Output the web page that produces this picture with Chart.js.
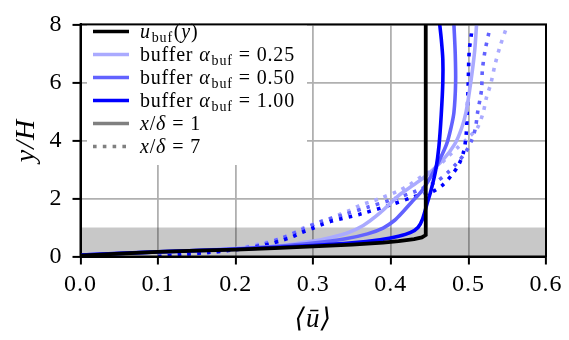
<!DOCTYPE html>
<html><head><meta charset="utf-8">
<script src="https://cdn.jsdelivr.net/npm/chart.js@4"></script>
<style>html,body{margin:0;padding:0;background:#fff}canvas{display:block}</style>
</head><body>
<div style="width:569px;height:340px"><canvas id="c" width="569" height="340"></canvas></div>
<script>
// ---- data ----
const xTickValues = [0, 0.1, 0.2, 0.3, 0.4, 0.5, 0.6];
const yTickValues = [0, 2, 4, 6, 8];
const alphas = [0.25, 0.50, 1.00];
const positions = [1, 7];
const bandTop = 1;

const bufU = [0.000,0.050,0.100,0.150,0.200,0.250,0.300,0.350,0.390,0.410,0.430,0.440,0.445,0.445];
const bufY = [0.03, 0.10, 0.16, 0.20, 0.24, 0.29, 0.35, 0.41, 0.48, 0.53, 0.60, 0.66, 0.74, 8.00];

// x/delta = 1
const a025x1U = [0.000,0.100,0.200,0.257,0.300,0.320,0.343,0.3645,0.386,0.410,0.430,0.446,0.4675,0.4826,0.4912,0.4968,0.503,0.508,0.5105];
const a025x1Y = [0.05, 0.16, 0.27, 0.37, 0.53, 0.64, 0.80, 1.07,  1.50, 2.10, 2.48, 2.80, 3.34,  3.88,  4.42,  4.96,  6.00, 7.07, 8.00];
const a050x1U = [0.000,0.100,0.200,0.250,0.300,0.340,0.370,0.390,0.405,0.416,0.427,0.440,0.4525,0.463,0.472,0.4774,0.4813,0.4835,0.483,0.4813];
const a050x1Y = [0.05, 0.16, 0.26, 0.34, 0.46, 0.60, 0.78, 0.98, 1.25, 1.55, 1.88, 2.26, 2.80,  3.34, 3.88, 4.42,  4.96,  6.00,  7.00, 8.00];
const a100x1U = [0.000,0.100,0.200,0.300,0.350,0.386,0.410,0.425,0.435,0.441,0.447,0.452,0.458,0.462,0.465,0.467,0.467,0.465,0.463];
const a100x1Y = [0.05, 0.16, 0.25, 0.38, 0.47, 0.58, 0.70, 0.82, 1.00, 1.30, 1.85, 2.30, 3.00, 3.80, 4.90, 6.00, 6.80, 7.50, 8.00];

// x/delta = 7
const a025x7U = [0.100,0.140,0.180,0.210,0.235,0.259,0.270,0.283,0.2957,0.3086,0.3215,0.334,0.347,0.360,0.373,0.386,0.4096,0.4246,0.4418,0.459,0.476,0.4868,0.500,0.5113,0.519,0.5234,0.5286,0.534,0.5406,0.549];
const a025x7Y = [0.00, 0.09, 0.20, 0.32, 0.46, 0.64, 0.75, 0.93, 1.07,  1.20,  1.31,  1.45, 1.59, 1.76, 1.88, 2.00, 2.26,  2.48,  2.80,  3.07, 3.50, 3.77,  4.10, 4.42,  4.96, 5.50,  5.93,  6.58, 7.23,  7.88];
const a050x7U = [0.100,0.140,0.180,0.210,0.235,0.260,0.285,0.310,0.340,0.370,0.400,0.4333,0.459,0.474,0.4839,0.4955,0.504,0.509,0.5118,0.5148,0.517,0.518,0.5213,0.5268];
const a050x7Y = [0.00, 0.08, 0.18, 0.29, 0.42, 0.64, 0.92, 1.20, 1.45, 1.70, 1.95, 2.26,  2.59, 2.91, 3.18,  3.56,  3.99, 4.42, 4.96,  5.40,  5.77, 6.42, 7.07,  7.77];
const a100x7U = [0.100,0.130,0.165,0.195,0.220,0.234,0.247,0.260,0.273,0.285,0.298,0.311,0.324,0.362,0.402,0.429,0.4546,0.4675,0.4783,0.4868,0.4933,0.4968,0.4985,0.4998,0.501,0.504];
const a100x7Y = [0.00, 0.07, 0.14, 0.22, 0.31, 0.37, 0.45, 0.56, 0.68, 0.83, 0.96, 1.10, 1.22, 1.47, 1.80, 2.05, 2.25,  2.48,  2.80,  3.13,  3.56,  4.10,  4.96,  6.04,  7.07, 7.70];

const colBuf = '#000000';
const alphaColors = ['#aaaaff', '#6262ff', '#0000ff'];
const dotDash = [3.6, 6.2];

function pts(u, y) { return u.map((v, i) => ({x: v, y: y[i]})); }

const series1 = [pts(a025x1U, a025x1Y), pts(a050x1U, a050x1Y), pts(a100x1U, a100x1Y)];
const series7 = [pts(a025x7U, a025x7Y), pts(a050x7U, a050x7Y), pts(a100x7U, a100x7Y)];

const datasets = [];
datasets.push({data: pts(bufU, bufY), borderColor: colBuf, borderWidth: 3.8, tension: 0, order: 0});
for (let i = 2; i >= 0; i--) {
  datasets.push({data: series1[i], borderColor: alphaColors[i], borderWidth: 3.6, tension: 0.3, order: 1 + (2 - i)});
}
for (let i = 2; i >= 0; i--) {
  datasets.push({data: series7[i], borderColor: alphaColors[i], borderWidth: 3.6, borderDash: dotDash, borderCapStyle: 'butt', tension: 0.3, order: 4 + (2 - i)});
}
datasets.push({data: [{x: 0, y: bandTop}, {x: 0.6, y: bandTop}], borderWidth: 0, borderColor: 'rgba(0,0,0,0)',
  backgroundColor: 'rgba(0,0,0,0.215)', fill: 'origin', order: 20});

const serif = '"Liberation Serif", "DejaVu Serif", serif';

function drawRich(ctx, x, y, segs, size) {
  for (const s of segs) {
    const fs = s.sub ? Math.round(size * 0.72) : size;
    ctx.font = (s.i ? 'italic ' : '') + fs + 'px ' + serif;
    ctx.fillText(s.t, x, y + (s.sub ? 4.5 : 0));
    x += ctx.measureText(s.t).width + (s.gap || 0);
  }
}

const legendEntries = [
  {color: colBuf, dash: null, segs: [{t:'u', i:1, gap:1},{t:'buf', sub:1, gap:1},{t:'('},{t:'y', i:1},{t:')'}]},
  ...alphas.map((a, k) => ({color: alphaColors[k], dash: null,
    segs: [{t:'buffer', gap:6},{t:'α', i:1, gap:1},{t:'buf', sub:1, gap:6},{t:'=', gap:6},{t:a.toFixed(2)}]})),
  ...positions.map((p, k) => ({color: '#808080', dash: k === 0 ? null : dotDash,
    segs: [{t:'x', i:1},{t:'/'},{t:'δ', i:1, gap:6},{t:'=', gap:6},{t:String(p)}]}))
];

const decor = {
  id: 'decor',
  beforeDraw(chart) {
    chart.ctx.letterSpacing = '1px';
  },
  afterDatasetsDraw(chart) {
    const ctx = chart.ctx;
    ctx.save();
    ctx.letterSpacing = '0.8px';
    // legend box
    ctx.fillStyle = '#ffffff';
    ctx.fillRect(87, 17, 220, 148);
    let y0 = 31.5;
    legendEntries.forEach((e, k) => {
      const yy = y0 + k * 23;
      ctx.beginPath();
      ctx.strokeStyle = e.color;
      ctx.lineWidth = 3.6;
      ctx.lineCap = 'butt';
      ctx.setLineDash(e.dash || []);
      ctx.moveTo(93, yy);
      ctx.lineTo(129, yy);
      ctx.stroke();
      ctx.setLineDash([]);
      ctx.fillStyle = '#000';
      ctx.textBaseline = 'alphabetic';
      ctx.textAlign = 'left';
      drawRich(ctx, 140, yy + 6, e.segs, 20);
    });
    ctx.restore();
  },
  afterDraw(chart) {
    const ctx = chart.ctx, a = chart.chartArea;
    ctx.save();
    ctx.strokeStyle = '#000';
    ctx.lineWidth = 2;
    ctx.strokeRect(a.left, a.top, a.right - a.left, a.bottom - a.top);
    // axis titles
    ctx.fillStyle = '#000';
    ctx.textAlign = 'center';
    ctx.textBaseline = 'middle';
    ctx.letterSpacing = '1px';
    ctx.font = 'italic 27px ' + serif;
    const cx = (a.left + a.right) / 2;
    ctx.fillText('⟨ū⟩', cx, 320);
    ctx.translate(27, (a.top + a.bottom) / 2);
    ctx.rotate(-Math.PI / 2);
    ctx.font = 'italic 28px ' + serif;
    ctx.fillText('y/H', 0, 0);
    ctx.restore();
  }
};

new Chart(document.getElementById('c'), {
  type: 'line',
  data: {datasets},
  options: {
    responsive: false, animation: false, devicePixelRatio: 1,
    layout: {padding: {top: 9, right: 23, left: 0, bottom: 0}},
    plugins: {legend: {display: false}, tooltip: {enabled: false}},
    elements: {point: {radius: 0}},
    scales: {
      x: {
        type: 'linear', min: 0, max: 0.6,
        afterFit: s => { s.height = 83.5; },
        afterBuildTicks: s => { s.ticks = xTickValues.map(v => ({value: v})); },
        ticks: {callback: v => Number(v).toFixed(1), color: '#000', font: {family: serif, size: 24}, padding: 6, maxRotation: 0},
        grid: {color: '#b0b0b0', lineWidth: 1.8, tickColor: '#000', tickLength: 8, tickWidth: 2},
        border: {color: '#000', width: 2}
      },
      y: {
        type: 'linear', min: 0, max: 8,
        afterFit: s => { s.width = 80.5; },
        afterBuildTicks: s => { s.ticks = yTickValues.map(v => ({value: v})); },
        ticks: {color: '#000', font: {family: serif, size: 24}, padding: 10},
        grid: {color: '#b0b0b0', lineWidth: 1.8, tickColor: '#000', tickLength: 8, tickWidth: 2},
        border: {color: '#000', width: 2}
      }
    }
  },
  plugins: [decor]
});
</script>
</body></html>
